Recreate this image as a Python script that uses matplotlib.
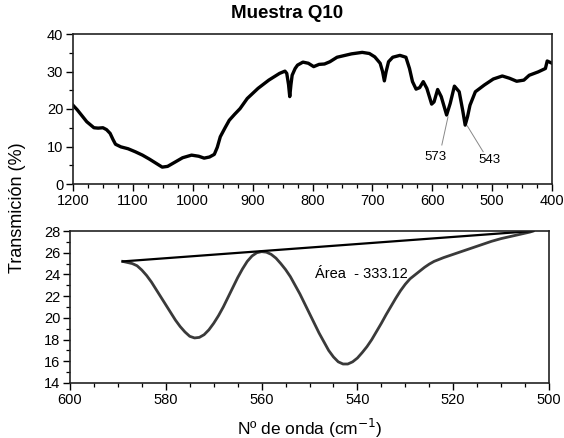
import matplotlib
matplotlib.use("Agg")
import matplotlib.pyplot as plt
from matplotlib.ticker import MultipleLocator

plt.rcParams['font.family'] = ['Liberation Sans', 'DejaVu Sans']

# Full IR spectrum (wavenumber, % transmission)
wn_full = [1200, 1193, 1186, 1177, 1165, 1158, 1150, 1144, 1138, 1133, 1129, 1120, 1108, 1096,
           1084, 1072, 1060, 1051, 1042, 1030, 1017, 1002, 990, 981, 972, 964, 959,
           954, 946, 939, 930, 921, 909, 891, 873, 855, 846, 843, 840, 838, 836, 834,
           829, 825, 816, 807, 798, 789, 780, 771, 759, 735, 717, 705, 696, 687, 683,
           680, 677, 673, 666, 654, 644, 638, 633, 627, 621, 615, 609, 601, 597, 591,
           585, 576, 570, 563, 555, 549, 545, 541, 537, 528, 513, 498, 483, 471, 459,
           447, 438, 423, 411, 408, 404, 400]
tr_full = [21.0, 19.8, 18.4, 16.6, 15.0, 14.9, 15.0, 14.5, 13.5, 11.8, 10.6, 9.9, 9.4, 8.6,
           7.7, 6.6, 5.4, 4.5, 4.7, 5.8, 7.0, 7.7, 7.4, 6.9, 7.2, 7.9, 9.8,
           12.6, 15.0, 17.0, 18.6, 20.1, 22.8, 25.5, 27.7, 29.5, 30.1, 29.5, 26.5,
           23.3, 26.5, 29.0, 30.8, 31.7, 32.5, 32.2, 31.3, 31.9, 32.0, 32.6, 33.8,
           34.7, 35.1, 34.8, 33.9, 32.2, 30.0, 27.5, 30.0, 32.6, 33.8, 34.3, 33.8,
           30.8, 27.3, 25.3, 25.7, 27.3, 25.5, 21.3, 21.9, 25.2, 23.3, 18.4, 21.5,
           26.1, 24.6, 19.5, 15.7, 18.0, 21.0, 24.6, 26.4, 28.0, 28.8, 28.2, 27.4,
           27.7, 29.0, 29.9, 30.8, 32.8, 32.5, 32.2]

# Labelled absorption bands
peak_labels = ["573", "543"]
peak_pos = [(573.7, 17.9), (541.5, 15.5)]
label_pos = [(595, 7.3), (505, 6.4)]
line_end = [(584, 10.4), (515, 8.6)]

# Zoomed region 600-500 cm-1
wn_zoom = [589, 588, 587, 586, 585, 584, 583, 582, 581, 580, 579, 578, 577, 576, 575,
           574, 573, 572, 571, 570, 569, 568, 567, 566, 565, 564, 563, 562, 561, 560,
           559, 558, 557, 556, 555, 554, 553, 552, 551, 550, 549, 548, 547, 546, 545,
           544, 543, 542, 541, 540, 539, 538, 537, 536, 535, 534, 533, 532, 531, 530,
           529, 528, 527, 526, 525, 524, 522, 520, 518, 516, 514, 512, 510, 508, 506,
           504, 503.3]
tr_zoom = [25.2, 25.1, 25.0, 24.8, 24.4, 23.9, 23.3, 22.6, 21.9, 21.2, 20.5, 19.8,
           19.2, 18.7, 18.3, 18.15, 18.2, 18.45, 18.9, 19.5, 20.2, 21.0, 21.9, 22.8,
           23.7, 24.5, 25.2, 25.7, 26.0, 26.1, 26.05, 25.85, 25.5, 25.0, 24.45, 23.8,
           23.0, 22.2, 21.3, 20.4, 19.5, 18.6, 17.8, 17.0, 16.4, 15.95, 15.75, 15.75,
           15.95, 16.3, 16.8, 17.35, 18.0, 18.75, 19.5, 20.3, 21.05, 21.8, 22.5, 23.1,
           23.6, 23.95, 24.3, 24.65, 24.95, 25.2, 25.55, 25.85, 26.15, 26.45, 26.75,
           27.05, 27.3, 27.5, 27.7, 27.9, 28.0]
baseline_x = [589, 503.3]
baseline_y = [25.2, 28.0]
area_text = "Área  - 333.12"

fig = plt.figure(figsize=(5.64, 4.38), dpi=100)
W, H = 564, 438

def box(l, t, r, b):
    return [l / W, 1 - b / H, (r - l) / W, (b - t) / H]

ax1 = fig.add_axes(box(73, 34, 552, 184))
ax2 = fig.add_axes(box(70, 231, 549, 383))

ax1.plot(wn_full, tr_full, color='black', lw=2.4, solid_joinstyle='round')
for lab, (px, py), (lx, ly), (ex, ey) in zip(peak_labels, peak_pos, label_pos, line_end):
    ax1.plot([px, ex], [py, ey], color='#888888', lw=0.7)
    ax1.text(lx, ly, lab, ha='center', va='center', fontsize=9.5)
ax1.set_xlim(1200, 400)
ax1.set_ylim(0, 40)
ax1.xaxis.set_major_locator(MultipleLocator(100))
ax1.xaxis.set_minor_locator(MultipleLocator(25))
ax1.yaxis.set_major_locator(MultipleLocator(10))
ax1.yaxis.set_minor_locator(MultipleLocator(5))
fig.text(287 / W, 1 - 13 / H, "Muestra Q10", fontsize=13.5, fontweight='bold',
         ha='center', va='center')

ax2.plot(wn_zoom, tr_zoom, color='#3a3a3a', lw=2.0, solid_joinstyle='round')
ax2.plot(baseline_x, baseline_y, color='black', lw=1.6)
ax2.text(548.8, 24.0, area_text, ha='left', va='center', fontsize=10.5)
ax2.set_xlim(600, 500)
ax2.set_ylim(14, 28)
ax2.xaxis.set_major_locator(MultipleLocator(20))
ax2.xaxis.set_minor_locator(MultipleLocator(5))
ax2.yaxis.set_major_locator(MultipleLocator(2))
ax2.yaxis.set_minor_locator(MultipleLocator(1))
ax2.set_xlabel("Nº de onda (cm$^{-1}$)", fontsize=12.5, labelpad=7)

for ax in (ax1, ax2):
    for s in ax.spines.values():
        s.set_linewidth(1.2)
        s.set_color('#222222')
    ax.tick_params(which='major', direction='out', length=5, width=1.0, labelsize=10.5, pad=2)
    ax.tick_params(which='minor', direction='out', length=3, width=0.9)

fig.text(18 / W, 1 - 208 / H, "Transmición (%)", rotation=90, ha='center', va='center', fontsize=13)

fig.savefig("out.png", dpi=100)
